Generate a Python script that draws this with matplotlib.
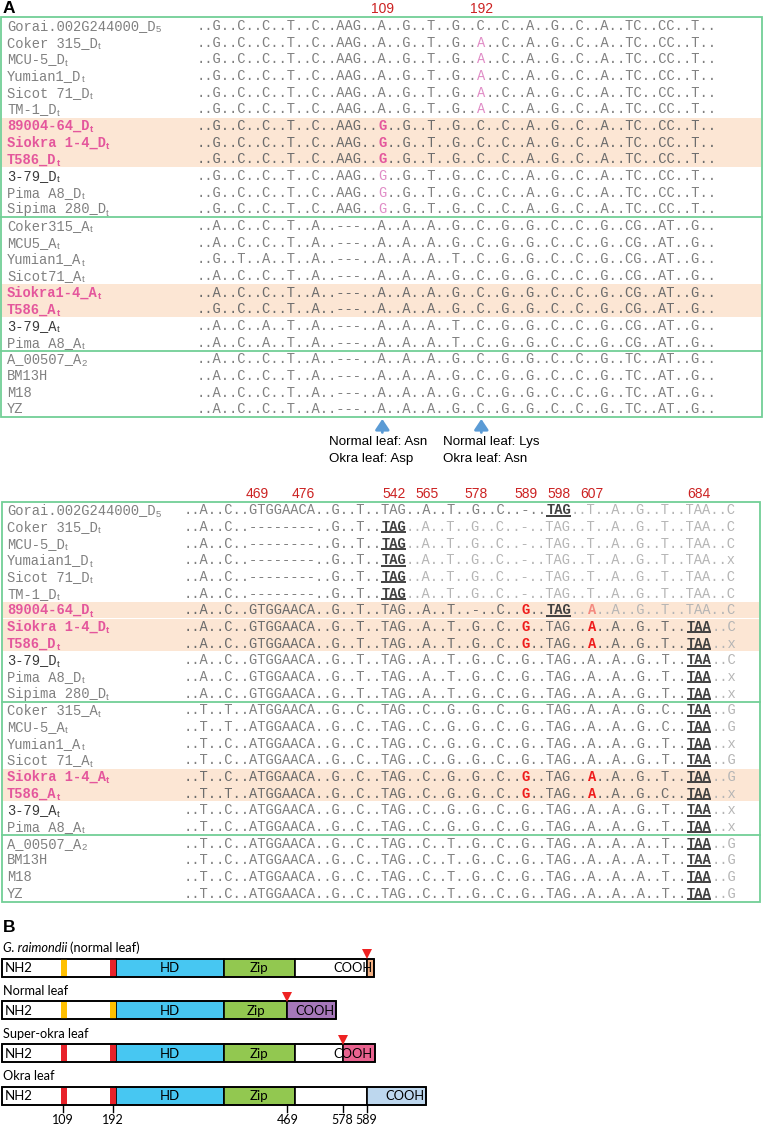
import matplotlib
matplotlib.use("Agg")
import matplotlib.pyplot as plt
import numpy as np

# ---------------- data ----------------
top_names = [("Gorai.002G244000_D", "5"), ("Coker 315_D", "t"), ("MCU-5_D", "t"), ("Yumian1_D", "t"),
             ("Sicot 71_D", "t"), ("TM-1_D", "t"), ("89004-64_D", "t"), ("Siokra 1-4_D", "t"),
             ("T586_D", "t"), ("3-79_D", "t"), ("Pima A8_D", "t"), ("Sipima 280_D", "t"),
             ("Coker315_A", "t"), ("MCU5_A", "t"), ("Yumian1_A", "t"), ("Sicot71_A", "t"),
             ("Siokra1-4_A", "t"), ("T586_A", "t"), ("3-79_A", "t"), ("Pima A8_A", "t"),
             ("A_00507_A", "2"), ("BM13H", ""), ("M18", ""), ("YZ", "")]

top_seqs = [
    "..G..C..C..T..C..AAG..A..G..T..G..C..C..A..G..C..A..TC..CC..T..",
    "..G..C..C..T..C..AAG..A..G..T..G..A..C..A..G..C..A..TC..CC..T..",
    "..G..C..C..T..C..AAG..A..G..T..G..A..C..A..G..C..A..TC..CC..T..",
    "..G..C..C..T..C..AAG..A..G..T..G..A..C..A..G..C..A..TC..CC..T..",
    "..G..C..C..T..C..AAG..A..G..T..G..A..C..A..G..C..A..TC..CC..T..",
    "..G..C..C..T..C..AAG..A..G..T..G..A..C..A..G..C..A..TC..CC..T..",
    "..G..C..C..T..C..AAG..G..G..T..G..C..C..A..G..C..A..TC..CC..T..",
    "..G..C..C..T..C..AAG..G..G..T..G..C..C..A..G..C..A..TC..CC..T..",
    "..G..C..C..T..C..AAG..G..G..T..G..C..C..A..G..C..A..TC..CC..T..",
    "..G..C..C..T..C..AAG..G..G..T..G..C..C..A..G..C..A..TC..CC..T..",
    "..G..C..C..T..C..AAG..G..G..T..G..C..C..A..G..C..A..TC..CC..T..",
    "..G..C..C..T..C..AAG..G..G..T..G..C..C..A..G..C..A..TC..CC..T..",
    "..A..C..C..T..A..---..A..A..A..G..C..G..G..C..C..G..CG..AT..G..",
    "..A..C..C..T..A..---..A..A..A..G..C..G..G..C..C..G..CG..AT..G..",
    "..G..T..A..T..A..---..A..A..A..T..C..G..G..C..C..G..CG..AT..G..",
    "..A..C..C..T..A..---..A..A..A..G..C..G..G..C..C..G..CG..AT..G..",
    "..A..C..C..T..A..---..A..A..A..G..C..G..G..C..C..G..CG..AT..G..",
    "..G..C..C..T..A..---..A..A..A..G..C..G..G..C..C..G..CG..AT..G..",
    "..A..C..A..T..A..---..A..A..A..T..C..G..G..C..C..G..CG..AT..G..",
    "..A..C..A..T..A..---..A..A..A..T..C..G..G..C..C..G..CG..AT..G..",
    "..A..C..C..T..A..---..A..A..A..G..C..G..G..C..C..G..TC..AT..G..",
    "..A..C..C..T..A..---..A..A..A..G..C..G..G..C..C..G..TC..AT..G..",
    "..A..C..C..T..A..---..A..A..A..G..C..G..G..C..C..G..TC..AT..G..",
    "..A..C..C..T..A..---..A..A..A..G..C..G..G..C..C..G..TC..AT..G..",
]
top_pos_labels = ["109", "192"]
top_pos_cols = [22, 34]
# mutated columns per row -> mark kind
top_mut = {1: {34: "ltpink"}, 2: {34: "ltpink"}, 3: {34: "ltpink"}, 4: {34: "ltpink"}, 5: {34: "ltpink"},
           6: {22: "pink"}, 7: {22: "pink"}, 8: {22: "pink"},
           9: {22: "ltpink"}, 10: {22: "ltpink"}, 11: {22: "ltpink"}}
arrow_cols = [22, 34]
arrow_notes = [("Normal leaf: Asn", "Okra leaf: Asp"), ("Normal leaf: Lys", "Okra leaf: Asn")]
arrow_note_x = [329, 443]

bot_names = [("Gorai.002G244000_D", "5"), ("Coker 315_D", "t"), ("MCU-5_D", "t"), ("Yumaian1_D", "t"),
             ("Sicot 71_D", "t"), ("TM-1_D", "t"), ("89004-64_D", "t"), ("Siokra 1-4_D", "t"),
             ("T586_D", "t"), ("3-79_D", "t"), ("Pima A8_D", "t"), ("Sipima 280_D", "t"),
             ("Coker 315_A", "t"), ("MCU-5_A", "t"), ("Yumian1_A", "t"), ("Sicot 71_A", "t"),
             ("Siokra 1-4_A", "t"), ("T586_A", "t"), ("3-79_A", "t"), ("Pima A8_A", "t"),
             ("A_00507_A", "2"), ("BM13H", ""), ("M18", ""), ("YZ", "")]
bot_seqs = [
    "..A..C..GTGGAACA..G..T..TAG..A..T..G..C..-..TAG..T..A..G..T..TAA..C",
    "..A..C..--------..G..T..TAG..A..T..G..C..-..TAG..T..A..G..T..TAA..C",
    "..A..C..--------..G..T..TAG..A..T..G..C..-..TAG..T..A..G..T..TAA..C",
    "..A..C..--------..G..T..TAG..A..T..G..C..-..TAG..T..A..G..T..TAA..x",
    "..A..C..--------..G..T..TAG..A..T..G..C..-..TAG..T..A..G..T..TAA..C",
    "..A..C..--------..G..T..TAG..A..T..G..C..-..TAG..T..A..G..T..TAA..C",
    "..A..C..GTGGAACA..G..T..TAG..A..T..-..C..G..TAG..A..A..G..T..TAA..C",
    "..A..C..GTGGAACA..G..T..TAG..A..T..G..C..G..TAG..A..A..G..T..TAA..C",
    "..A..C..GTGGAACA..G..T..TAG..A..T..G..C..G..TAG..A..A..G..T..TAA..x",
    "..A..C..GTGGAACA..G..T..TAG..A..T..G..C..G..TAG..A..A..G..T..TAA..C",
    "..A..C..GTGGAACA..G..T..TAG..A..T..G..C..G..TAG..A..A..G..T..TAA..x",
    "..A..C..GTGGAACA..G..T..TAG..A..T..G..C..G..TAG..A..A..G..T..TAA..x",
    "..T..T..ATGGAACA..G..C..TAG..C..G..G..C..G..TAG..A..A..G..C..TAA..G",
    "..T..T..ATGGAACA..G..C..TAG..C..G..G..C..G..TAG..A..A..G..C..TAA..G",
    "..T..C..ATGGAACA..G..C..TAG..C..G..G..C..G..TAG..A..A..G..T..TAA..x",
    "..T..C..ATGGAACA..G..C..TAG..C..G..G..C..G..TAG..A..A..G..T..TAA..G",
    "..T..C..ATGGAACA..G..C..TAG..C..G..G..C..G..TAG..A..A..G..T..TAA..G",
    "..T..T..ATGGAACA..G..C..TAG..C..G..G..C..G..TAG..A..A..G..C..TAA..x",
    "..T..C..ATGGAACA..G..C..TAG..C..G..G..C..G..TAG..A..A..G..T..TAA..x",
    "..T..C..ATGGAACA..G..C..TAG..C..G..G..C..G..TAG..A..A..G..T..TAA..x",
    "..T..C..ATGGAACA..G..C..TAG..C..T..G..C..G..TAG..A..A..A..T..TAA..G",
    "..T..C..ATGGAACA..G..C..TAG..C..T..G..C..G..TAG..A..A..A..T..TAA..G",
    "..T..C..ATGGAACA..G..C..TAG..C..T..G..C..G..TAG..A..A..A..T..TAA..G",
    "..T..C..ATGGAACA..G..C..TAG..C..T..G..C..G..TAG..A..A..A..T..TAA..G",
]
bot_pos_labels = ["469", "476", "542", "565", "578", "589", "598", "607", "684"]
bot_pos_cols = [8.4, 14, 25, 29, 35, 41, 45, 49, 62]
# first column of the (bold, underlined) stop codon in each row
bot_stop = [44, 24, 24, 24, 24, 24, 44, 61, 61, 61, 61, 61,
            61, 61, 61, 61, 61, 61, 61, 61, 61, 61, 61, 61]
bot_mut = {6: {41: "red", 49: "ltred"}, 7: {41: "red", 49: "red"}, 8: {41: "red", 49: "red"},
           16: {41: "red", 49: "red"}, 17: {41: "red", 49: "red"}}

hl_rows = [6, 7, 8, 16, 17]
dark_rows = [9, 18]
group_breaks = [11, 19]

# panel B (schematic units along the protein bar)
prot_titles = ["G. raimondii", "Normal leaf", "Super-okra leaf", "Okra leaf"]
prot_bounds = [[1.7, 116, 224, 294.7, 366.7, 374],
               [1.7, 116, 224, 287.3, 336],
               [1.7, 116, 224, 294.7, 342.7, 375],
               [1.7, 116, 224, 294.7, 366.7, 426]]
prot_seg_names = [["NH2", "HD", "Zip", "", "COOH"],
                  ["NH2", "HD", "Zip", "COOH"],
                  ["NH2", "HD", "Zip", "", "COOH"],
                  ["NH2", "HD", "Zip", "", "COOH"]]
motif_left = [61, 110.3]
motif_width = [5.7, 5.3]
motif_kind = [["yellow", "red"], ["yellow", "yellow"], ["red", "red"], ["red", "red"]]
stop_mark = [366.7, 287.3, 342.7, None]
aa_ticks = [63.3, 112.7, 287.3, 342.7, 366.7]
aa_labels = ["109", "192", "469", "578", "589"]

# ---------------- style ----------------
W, H, DPI = 764, 1125, 100
MONO = "Liberation Mono"
SANS = "Liberation Sans"
BSANS = ["Lato", "Liberation Sans"]
FS = 9.9
CW = 0.6 * FS * DPI / 72.0
BASE = 4.2
ROWH = 400.0 / 24
GRAY = "#808080"
GRAYHL = "#6c6c6c"
LTGRAY = "#b5b5b5"
DARK = "#404040"
PINK = "#E4569C"
LTPINK = "#E08CC6"
RED = "#EE1C1C"
LTRED = "#F48A80"
NUMRED = "#CC2222"
GREEN = "#72CF96"
HLCOL = "#FCE6D4"
BLUE = "#5B9BD5"

styles = {
    "norm": (GRAY, "normal"), "normhl": (GRAYHL, "normal"), "faded": (LTGRAY, "normal"),
    "stop": (DARK, "bold"), "red": (RED, "bold"), "ltred": (LTRED, "bold"),
    "pink": (PINK, "bold"), "ltpink": (LTPINK, "normal"),
}
seg_colors = {"NH2": "white", "": "white", "HD": "#47C7F2", "Zip": "#92C850"}
cooh_colors = ["#F4B183", "#A678BA", "#E9628F", "#BDD7EE"]
motif_colors = {"yellow": "#FFC000", "red": "#E8222A"}

fig = plt.figure(figsize=(W / DPI, H / DPI), dpi=DPI)
ax = fig.add_axes([0, 0, 1, 1])
ax.set_xlim(0, W)
ax.set_ylim(H, 0)
ax.axis("off")


def draw_runs(x0, y, seq, keys):
    i, n = 0, len(seq)
    while i < n:
        j = i
        while j < n and keys[j] == keys[i]:
            j += 1
        col, wt = styles[keys[i]]
        ax.text(x0 + i * CW, y + BASE, seq[i:j], fontfamily=MONO, fontsize=FS,
                color=col, fontweight=wt, ha="left", va="baseline")
        if keys[i] == "stop":
            ax.plot([x0 + i * CW, x0 + j * CW], [y + 5.8, y + 5.8], color=col,
                    lw=1.4, solid_capstyle="butt")
        i = j


def draw_name(x, y, base, sub, row):
    if row in hl_rows:
        col, wt = PINK, "bold"
    elif row in dark_rows:
        col, wt = "#3a3a3a", "normal"
    else:
        col, wt = GRAY, "normal"
    ax.text(x, y + BASE, base, fontfamily=MONO, fontsize=FS, color=col,
            fontweight=wt, ha="left", va="baseline")
    if sub:
        ax.text(x + len(base) * CW + 0.3, y + BASE + 2.4, sub, fontfamily=SANS,
                fontsize=6.8, color=col, fontweight=wt, ha="left", va="baseline")


def draw_block(row0, x_left, x_right, seq_x0, names, seqs, keyfun):
    top = row0 - ROWH / 2
    bot = row0 + ROWH * (len(seqs) - 0.5)
    for r in hl_rows:
        y = row0 + r * ROWH
        ax.add_patch(plt.Rectangle((x_left + 1, y - ROWH / 2 + 0.3), x_right - x_left - 2,
                                   ROWH - 0.6, color=HLCOL, lw=0, zorder=0))
    ax.add_patch(plt.Rectangle((x_left, top), x_right - x_left, bot - top, fill=False,
                               edgecolor=GREEN, lw=1.3, zorder=3))
    for g in group_breaks:
        yb = row0 + (g + 0.5) * ROWH
        ax.plot([x_left, x_right], [yb, yb], color=GREEN, lw=1.3, zorder=3)
    for r, (nm, sq) in enumerate(zip(names, seqs)):
        y = row0 + r * ROWH
        draw_name(7, y, nm[0], nm[1], r)
        draw_runs(seq_x0, y, sq, keyfun(r, sq))


def top_keys(r, sq):
    base = "normhl" if r in hl_rows else "norm"
    m = top_mut.get(r, {})
    return [m.get(c, base) for c in range(len(sq))]


def bot_keys(r, sq):
    base = "normhl" if r in hl_rows else "norm"
    m = bot_mut.get(r, {})
    s = bot_stop[r]
    out = []
    for c in range(len(sq)):
        if c in m:
            out.append(m[c])
        elif s <= c < s + 3:
            out.append("stop")
        elif c >= s + 3:
            out.append("faded")
        else:
            out.append(base)
    return out


# ---------------- panel A ----------------
ax.text(3, 8.5, "A", fontfamily=SANS, fontsize=12.5, fontweight="bold", va="center", ha="left")
TOP_ROW0, TOP_X0 = 25.8, 196.7
draw_block(TOP_ROW0, 1.2, 761.5, TOP_X0, top_names, top_seqs, top_keys)
for lab, c in zip(top_pos_labels, top_pos_cols):
    ax.text(TOP_X0 + (c + 0.5) * CW, 9.3, lab, fontfamily=SANS, fontsize=10,
            color=NUMRED, ha="center", va="center")

box_bottom = TOP_ROW0 + ROWH * (len(top_seqs) - 0.5)
for c, (l1, l2), xn in zip(arrow_cols, arrow_notes, arrow_note_x):
    xa = TOP_X0 + (c + 0.5) * CW
    ax.annotate("", xy=(xa, box_bottom + 1.5), xytext=(xa, box_bottom + 15),
                arrowprops=dict(arrowstyle="-|>,head_width=0.3,head_length=0.45", color=BLUE,
                                lw=2.0, shrinkA=0, shrinkB=0, mutation_scale=14))
    ax.text(xn, 442, l1, fontfamily=SANS, fontsize=9.6, color="black", ha="left", va="center")
    ax.text(xn, 459, l2, fontfamily=SANS, fontsize=9.6, color="black", ha="left", va="center")

BOT_ROW0, BOT_X0 = 510.0, 183.3
draw_block(BOT_ROW0, 1.5, 760.0, BOT_X0, bot_names, bot_seqs, bot_keys)
for lab, c in zip(bot_pos_labels, bot_pos_cols):
    ax.text(BOT_X0 + (c + 0.5) * CW, 494, lab, fontfamily=SANS, fontsize=10,
            color=NUMRED, ha="center", va="center")

# ---------------- panel B ----------------
ax.text(3, 927.5, "B", fontfamily=SANS, fontsize=12.5, fontweight="bold", va="center", ha="left")
B_Y0, B_DY, BH = 967.5, 42.8, 18.0
fig.canvas.draw()
for i, title in enumerate(prot_titles):
    yc = B_Y0 + i * B_DY
    bnds = np.array(prot_bounds[i])
    names = prot_seg_names[i]
    fills = [seg_colors[n] if n != "COOH" else cooh_colors[i] for n in names]
    ax.barh(yc, np.diff(bnds), left=bnds[:-1], height=BH, color=fills,
            edgecolor="black", linewidth=1.2, zorder=2)
    for ml, mw, mk in zip(motif_left, motif_width, motif_kind[i]):
        ax.barh(yc, mw, left=ml, height=BH - 1.3, color=motif_colors[mk], lw=0, zorder=3)
    ax.barh(yc, bnds[-1] - bnds[0], left=bnds[0], height=BH, fill=False,
            edgecolor="black", linewidth=1.2, zorder=4)
    for k, n in enumerate(names):
        if n in ("HD", "Zip"):
            ax.text((bnds[k] + bnds[k + 1]) / 2, yc + 0.5, n, fontfamily=BSANS, fontsize=9.5,
                    ha="center", va="center", zorder=5)
        elif n == "NH2":
            ax.text(bnds[k] + 3.5, yc + 0.5, n, fontfamily=BSANS, fontsize=9.5,
                    ha="left", va="center", zorder=5)
        elif n == "COOH":
            ax.text(bnds[-1] - 2.0, yc + 0.5, n, fontfamily=BSANS, fontsize=9.3,
                    ha="right", va="center", zorder=5)
    if stop_mark[i] is not None:
        ax.plot(stop_mark[i], yc - BH / 2 - 4.3, marker="v", color="#EE2222",
                markersize=6.5, markeredgewidth=0, zorder=6)
    ty = yc - 19.5
    if i == 0:
        t1 = ax.text(3, ty, title, fontfamily=BSANS, fontsize=9.2, style="italic",
                     ha="left", va="center")
        fig.canvas.draw()
        bb = t1.get_window_extent()
        xe = ax.transData.inverted().transform((bb.x1, bb.y0))[0]
        ax.text(xe + 3, ty, "(normal leaf)", fontfamily=BSANS, fontsize=9.2,
                ha="left", va="center")
    else:
        ax.text(3, ty, title, fontfamily=BSANS, fontsize=9.2, ha="left", va="center")

y_last = B_Y0 + 3 * B_DY
for xt, lab in zip(aa_ticks, aa_labels):
    ax.plot([xt, xt], [y_last + BH / 2, y_last + BH / 2 + 7], color="black", lw=1.0)
    ax.text(xt, y_last + BH / 2 + 15, lab, fontfamily=BSANS, fontsize=9,
            ha="center", va="center")

fig.savefig("out.png", dpi=DPI)
